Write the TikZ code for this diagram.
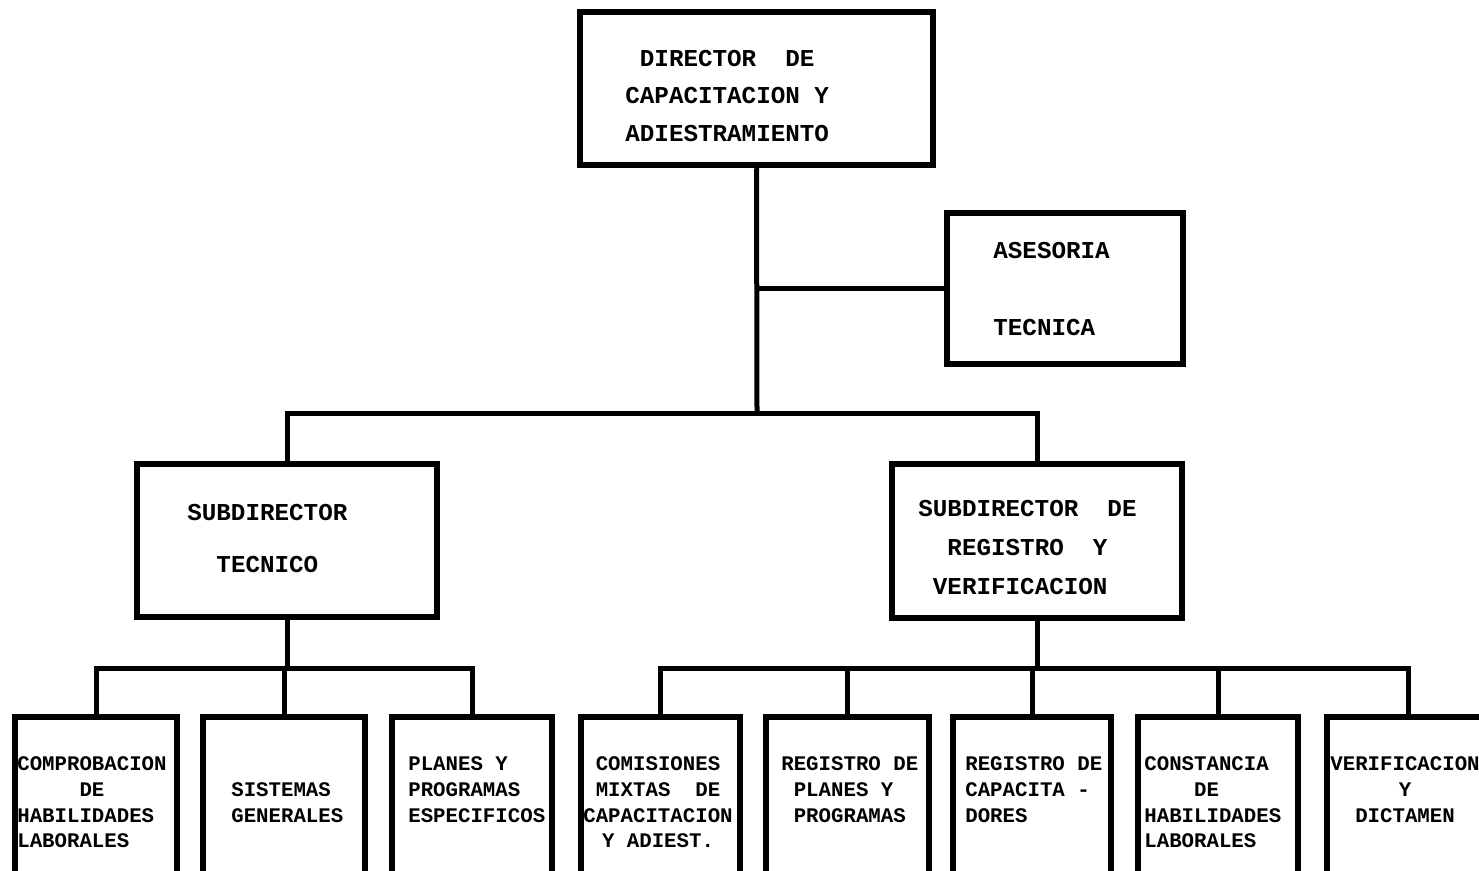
\documentclass[tikz,border=0pt]{standalone}
\usepackage{fontspec}
\newfontfamily\orgfont{Liberation Mono}
\usetikzlibrary{fit}

\tikzset{
	caja/.style={draw,line width=0.13cm,inner sep=0pt},
	linea/.style={line width=0.1cm},
	grande/.style={inner sep=0pt,anchor=north west,align=left,font=\orgfont\bfseries\fontsize{13.8}{21.3}\selectfont},
	chico/.style={inner sep=0pt,anchor=north west,align=left,font=\orgfont\bfseries\fontsize{11.8}{14.74}\selectfont},
}

\begin{document}
\begin{tikzpicture}[x=0.02cm,y=-0.02cm]
	\useasboundingbox (0,0) rectangle (1479,871);
	\clip (0,0) rectangle (1479,871);
	\node[caja,fit={(580,12) (933,165)}] (dir) {};
	\node[caja,fit={(947,213) (1183,364)}] (ase) {};
	\node[caja,fit={(137,464) (437,617)}] (subT) {};
	\node[caja,fit={(892,464) (1182,618)}] (subR) {};
	\node[caja,fit={(15,717) (177,900)}] (c1) {};
	\node[caja,fit={(203,717) (365,900)}] (c2) {};
	\node[caja,fit={(392,717) (552,900)}] (c3) {};
	\node[caja,fit={(581,717) (740,900)}] (c4) {};
	\node[caja,fit={(766,717) (929,900)}] (c5) {};
	\node[caja,fit={(953,717) (1111,900)}] (c6) {};
	\node[caja,fit={(1138,717) (1298,900)}] (c7) {};
	\node[caja,fit={(1327,717) (1489,900)}] (c8) {};

	\node[grande] (tdir) at (625,50) {\ DIRECTOR\ \ DE\\CAPACITACION Y\\ADIESTRAMIENTO};
	\node[grande] (tase) at (993,242) {ASESORIA\\[22.4pt]TECNICA};
	\node[grande] (tsubT) at (187,504) {SUBDIRECTOR\\[8.2pt]\ \ TECNICO};
	\node[grande] (tsubR) at (918,500) {SUBDIRECTOR\ \ DE\\[0.9pt]\ \ REGISTRO\ \ Y\\[0.9pt]\ VERIFICACION};
	\node[chico] (tc1) at (17,756) {COMPROBACION\\\ \ \ \ \ DE\\HABILIDADES\\LABORALES};
	\node[chico] (tc2) at (231,782) {SISTEMAS\\GENERALES};
	\node[chico] (tc3) at (408,756) {PLANES Y\\PROGRAMAS\\ESPECIFICOS};
	\node[chico,anchor=north,align=center] (tc4) at (658,756) {COMISIONES\\MIXTAS\ \ DE\\CAPACITACION\\Y ADIEST.};
	\node[chico] (tc5) at (781,756) {REGISTRO DE\\\ PLANES Y\\\ PROGRAMAS};
	\node[chico] (tc6) at (965,756) {REGISTRO DE\\CAPACITA -\\DORES};
	\node[chico] (tc7) at (1144,756) {CONSTANCIA\\\ \ \ \ DE\\HABILIDADES\\LABORALES};
	\node[chico,anchor=north,align=center] (tc8) at (1405,756) {VERIFICACION\\Y\\DICTAMEN};

	\coordinate (b0) at (757,413);
	\coordinate (bT) at (285,668);
	\coordinate (bR) at (1035,668);
	\draw[linea] (dir.south) -- (b0);
	\draw[linea] (dir.south |- ase.west) -- (ase.west);
	\draw[linea] (subT.north) |- (b0) -| (subR.north);
	\draw[linea] (subT.south) -- (subT.south |- bT);
	\draw[linea] (c1.north) |- (bT) -| (c3.north);
	\draw[linea] (c2.north) -- (c2.north |- bT);
	\draw[linea] (subR.south) -- (subR.south |- bR);
	\draw[linea] (c4.north) |- (bR) -| (c8.north);
	\foreach \c in {c5,c6,c7}
		\draw[linea] (\c.north) -- (\c.north |- bR);
\end{tikzpicture}
\end{document}
